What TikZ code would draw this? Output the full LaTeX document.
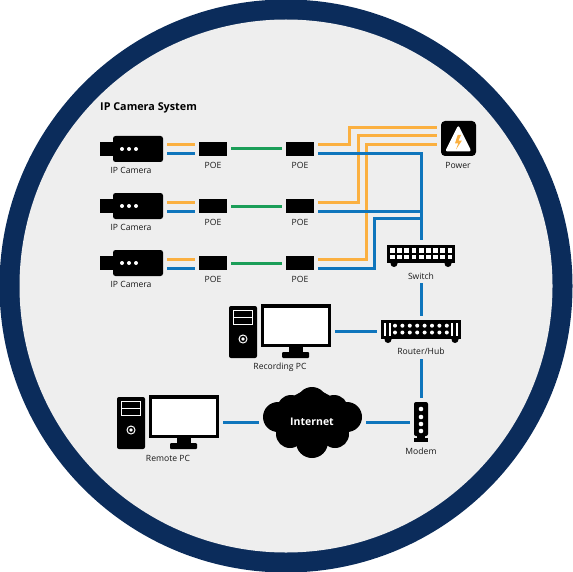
\documentclass[tikz,border=0pt]{standalone}
\usepackage{fontspec}
\setmainfont{Open Sans}
\usetikzlibrary{positioning,calc}
\definecolor{ringNavy}{HTML}{0B2C5B}
\definecolor{discGray}{HTML}{EEEEEE}
\definecolor{wireOrange}{HTML}{FBB040}
\definecolor{wireBlue}{HTML}{0F75BC}
\definecolor{wireGreen}{HTML}{1B9E58}
\tikzset{
  device/.style={rectangle,fill=black,inner sep=0pt},
  poebox/.style={device,minimum width=28pt,minimum height=14pt},
  lbl/.style={font=\fontsize{8.6}{10}\selectfont,text=black!90,inner sep=0pt},
  orange wire/.style={draw=wireOrange,line width=3pt},
  blue wire/.style={draw=wireBlue,line width=3pt},
  green wire/.style={draw=wireGreen,line width=3pt}
}
\begin{document}
\begin{tikzpicture}[x=1pt, y=-1pt,
    % Little shapes inside the devices
    whitedot/.style={circle,fill=white,inner sep=0pt,minimum size=4pt},
    whitekey/.style={rectangle,fill=white,inner sep=0pt,minimum size=4.8pt},
    foot/.style={circle,fill=black,inner sep=0pt,minimum size=7pt}
]
\useasboundingbox (0,0) rectangle (572,572);

% --- Disc ---
\fill[ringNavy] (286,286) circle (286.5);
\fill[discGray] (286,286) circle (266.5);

\node[anchor=base west,inner sep=0pt,font=\fontsize{10.8}{12}\selectfont\bfseries] (title) at (100,111) {IP Camera System};

% --- Camera rows ---
\foreach \r/\y in {1/149, 2/206, 3/263} {
    \node[device,minimum width=14pt,minimum height=14pt] (lens\r) at (107,\y) {};
    \node[device,rounded corners=2.5pt,minimum width=50pt,minimum height=26pt] (cam\r) at (138,\y) {};
    \foreach \d in {122,129,136} { \node[whitedot] (dot\r\d) at (\d,\y) {}; }
    \node[lbl] (camlabel\r) at (131,\y+21) {IP Camera};
    \node[poebox] (poeA\r) at (213,\y) {};
    \node[lbl] (poeAlabel\r) at (213,\y+16) {POE};
    \node[poebox] (poeB\r) at (300,\y) {};
    \node[lbl] (poeBlabel\r) at (300,\y+16) {POE};
    % Free ends of the wires
    \coordinate (camO\r) at (167,\y-4);
    \coordinate (camB\r) at (167,\y+5);
    \coordinate (poeAO\r) at (195,\y-4);
    \coordinate (poeAB\r) at (195,\y+5);
    \coordinate (poeBO\r) at (318,\y-4);
    \coordinate (poeBB\r) at (318,\y+5);
    \draw[orange wire] (camO\r) -- (poeAO\r);
    \draw[blue wire] (camB\r) -- (poeAB\r);
    \draw[green wire,shorten <=4pt,shorten >=4pt] (poeA\r) -- (poeB\r);
}

% --- Power ---
\node[device,rounded corners=4pt,minimum size=35pt] (power) at (458.5,138.5) {};
\fill[white,rounded corners=2.5pt] (458.3,125) -- (471.5,151.5) -- (445,151.5) -- cycle;
\fill[wireOrange] (457.7,135) -- (455,143.3) -- (458.3,143.3) -- (456,149.5) -- (461.8,140.7) -- (458.5,140.7) -- (461,135) -- cycle;
\node[lbl] (powerlabel) at (458,165) {Power};

% --- Switch ---
\node[device,minimum width=68pt,minimum height=18pt] (switch) at (421,254) {};
\node[foot] (footS1) at (394,263.5) {};
\node[foot] (footS2) at (448,263.5) {};
\foreach \c in {0,...,8} {
    \node[whitekey] (keyA\c) at (392.3+7.2*\c,250.2) {};
    \node[whitekey] (keyB\c) at (392.3+7.2*\c,257) {};
}
\node[lbl] (switchlabel) at (421,276) {Switch};

% --- Router ---
\node[device,minimum width=80pt,minimum height=19pt] (router) at (421,329.5) {};
\node[foot] (footR1) at (388,339.5) {};
\node[foot] (footR2) at (455,339.5) {};
\foreach \c in {0,...,7} {
    \node[whitedot] (portA\c) at (395+7.4*\c,325.7) {};
    \node[whitedot] (portB\c) at (395+7.4*\c,332.5) {};
}
\foreach \b in {385.3,389.7,452,456.7} {
    \fill[white] (\b-0.9,322.5) rectangle (\b+0.9,335.5);
}
\node[lbl] (routerlabel) at (421,351) {Router/Hub};

% --- Modem ---
\node[device,rounded corners=2pt,minimum width=14pt,minimum height=34pt] (modem) at (421,419) {};
\node[device,minimum width=8pt,minimum height=3pt] (modemneck) at (421,437) {};
\node[device,minimum width=14pt,minimum height=3.5pt] (modembase) at (421,440) {};
\foreach \m in {409,417,424,431} { \node[whitedot,minimum size=4.6pt] (led\m) at (421,\m) {}; }
\node[lbl] (modemlabel) at (421,451) {Modem};

% --- Internet ---
\foreach \cx/\cy/\cr in {312/402/15, 291/409/14, 334/409/14, 278/417/15, 347/417/15, 290/434/14, 335/434/14, 312/442/16, 312/420/30} {
    \fill[black] (\cx,\cy) circle (\cr);
}
\node[font=\fontsize{10.5}{12}\selectfont\bfseries,text=white,inner sep=0pt] (internet) at (312,422) {Internet};
\coordinate (cloudW) at (259,422);
\coordinate (cloudE) at (366,422);

% --- Computers ---
\foreach \n/\dx/\dy/\t in {rec/0/0/Recording PC, rem/-112/91/Remote PC} {
    \begin{scope}[shift={(\dx,\dy)}]
        \node[device,rounded corners=2pt,minimum width=28pt,minimum height=52pt] (\n tower) at (243,332) {};
        \draw[white,line width=0.8pt] (233.5,310.5) rectangle (252.5,324) (233.5,317.2) -- (252.5,317.2);
        \node[circle,draw=white,fill=black,line width=1pt,inner sep=0pt,minimum size=8pt] (\n button) at (243,339) {};
        \fill[white] (243,339) circle (1.8);
        \node[device,minimum width=70pt,minimum height=43pt] (\n screen) at (296,325.5) {};
        \fill[white] (264,308) rectangle (328,344);
        \fill[black] (289,347) rectangle (303,353);
        \fill[black,rounded corners=1pt] (282,352) rectangle (309,358);
        \node[lbl] (\n label) at (280,367) {\t};
    \end{scope}
}

% --- Wiring to the power supply ---
\coordinate (powerA) at (437,128);
\coordinate (powerB) at (437,136);
\coordinate (powerC) at (437,145);
\draw[orange wire] (poeBO1) -- (349,145) -- (349,128) -- (powerA);
\draw[orange wire] (poeBO2) -- (358,202) -- (358,136) -- (powerB);
\draw[orange wire] (poeBO3) -- (366,259) -- (366,145) -- (powerC);

% --- Wiring to the switch ---
\coordinate (switchN) at (421,240);
\draw[blue wire] (poeBB1) -- (421,154) -- (switchN);
\draw[blue wire] (poeBB2) -- (421,211);
\draw[blue wire] (poeBB3) -- (374,268) -- (374,218) -- (421,218);

% --- Remaining links ---
\coordinate (switchS) at (421,283);
\coordinate (routerN) at (421,316);
\coordinate (routerS) at (421,359);
\coordinate (modemN) at (421,398);
\coordinate (routerW) at (377,331);
\coordinate (recE) at (335,331);
\coordinate (remE) at (223,422);
\coordinate (modemW) at (410,422);
\draw[blue wire] (switchS) -- (routerN);
\draw[blue wire] (routerS) -- (modemN);
\draw[blue wire] (recE) -- (routerW);
\draw[blue wire] (remE) -- (cloudW);
\draw[blue wire] (cloudE) -- (modemW);

\end{tikzpicture}
\end{document}
